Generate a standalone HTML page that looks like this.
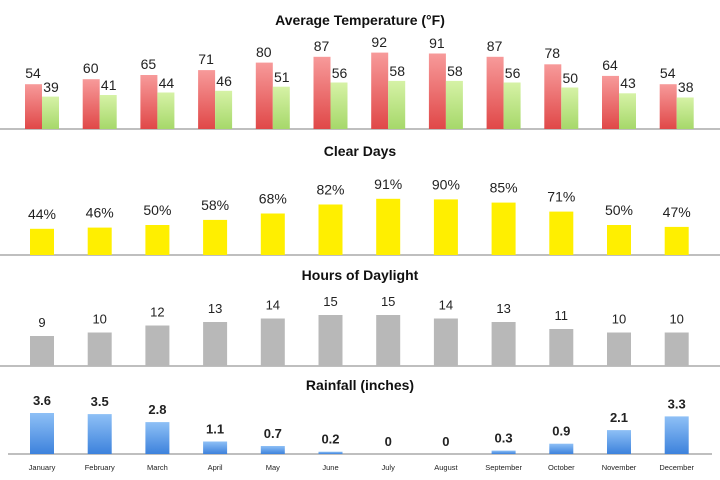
<!DOCTYPE html>
<html><head><meta charset="utf-8"><style>
html,body{margin:0;padding:0;background:#fff;}
svg{display:block;font-family:"Liberation Sans",sans-serif;}
</style></head><body>
<svg width="720" height="480" viewBox="0 0 720 480" xmlns="http://www.w3.org/2000/svg">
<defs>
<linearGradient id="r" x1="0" y1="0" x2="0" y2="1"><stop offset="0" stop-color="#f79a9a"/><stop offset="1" stop-color="#e04848"/></linearGradient>
<linearGradient id="g" x1="0" y1="0" x2="0" y2="1"><stop offset="0" stop-color="#d6f2a6"/><stop offset="1" stop-color="#a6d86a"/></linearGradient>
<linearGradient id="b" x1="0" y1="0" x2="0" y2="1"><stop offset="0" stop-color="#8ec0f6"/><stop offset="1" stop-color="#3d82dc"/></linearGradient>
</defs>
<rect width="720" height="480" fill="#fff"/>
<g font-weight="bold" font-size="14" text-anchor="middle" fill="#111">
<text x="360" y="25">Average Temperature (°F)</text>
<text x="360" y="156">Clear Days</text>
<text x="360" y="280">Hours of Daylight</text>
<text x="360" y="390">Rainfall (inches)</text>
</g>
<g stroke="#aaa" stroke-width="1.5">
<line x1="0" y1="129" x2="720" y2="129"/>
<line x1="0" y1="255" x2="720" y2="255"/>
<line x1="0" y1="366" x2="720" y2="366"/>
<line x1="8" y1="454" x2="712" y2="454"/>
</g>
<!-- temperature -->
<g fill="url(#r)">
<rect x="25" y="84.2" width="17" height="44.8"/>
<rect x="82.7" y="79.2" width="17" height="49.8"/>
<rect x="140.4" y="75" width="17" height="54"/>
<rect x="198.1" y="70.1" width="17" height="58.9"/>
<rect x="255.8" y="62.6" width="17" height="66.4"/>
<rect x="313.5" y="56.8" width="17" height="72.2"/>
<rect x="371.2" y="52.6" width="17" height="76.4"/>
<rect x="428.9" y="53.5" width="17" height="75.5"/>
<rect x="486.6" y="56.8" width="17" height="72.2"/>
<rect x="544.3" y="64.3" width="17" height="64.7"/>
<rect x="602" y="75.9" width="17" height="53.1"/>
<rect x="659.7" y="84.2" width="17" height="44.8"/>
</g>
<g fill="url(#g)">
<rect x="42" y="96.6" width="17" height="32.4"/>
<rect x="99.7" y="95" width="17" height="34"/>
<rect x="157.4" y="92.5" width="17" height="36.5"/>
<rect x="215.1" y="90.8" width="17" height="38.2"/>
<rect x="272.8" y="86.7" width="17" height="42.3"/>
<rect x="330.5" y="82.5" width="17" height="46.5"/>
<rect x="388.2" y="80.9" width="17" height="48.1"/>
<rect x="445.9" y="80.9" width="17" height="48.1"/>
<rect x="503.6" y="82.5" width="17" height="46.5"/>
<rect x="561.3" y="87.5" width="17" height="41.5"/>
<rect x="619" y="93.3" width="17" height="35.7"/>
<rect x="676.7" y="97.5" width="17" height="31.5"/>
</g>
<g font-size="14" text-anchor="middle" fill="#222">
<text x="33" y="78">54</text><text x="90.7" y="73">60</text><text x="148.4" y="69">65</text><text x="206.1" y="64">71</text>
<text x="263.8" y="57">80</text><text x="321.5" y="51">87</text><text x="379.2" y="47">92</text><text x="436.9" y="48">91</text>
<text x="494.6" y="51">87</text><text x="552.3" y="58">78</text><text x="610" y="70">64</text><text x="667.7" y="78">54</text>
<text x="51" y="92">39</text><text x="108.7" y="90">41</text><text x="166.4" y="88">44</text><text x="224.1" y="86">46</text>
<text x="281.8" y="82">51</text><text x="339.5" y="78">56</text><text x="397.2" y="76">58</text><text x="454.9" y="76">58</text>
<text x="512.6" y="78">56</text><text x="570.3" y="83">50</text><text x="628" y="88">43</text><text x="685.7" y="92">38</text>
</g>
<!-- clear days -->
<g fill="#ffef00">
<rect x="30" y="228.8" width="24" height="26.2"/>
<rect x="87.7" y="227.6" width="24" height="27.4"/>
<rect x="145.4" y="225" width="24" height="30"/>
<rect x="203.1" y="219.9" width="24" height="35.1"/>
<rect x="260.8" y="213.5" width="24" height="41.5"/>
<rect x="318.5" y="204.5" width="24" height="50.5"/>
<rect x="376.2" y="198.8" width="24" height="56.2"/>
<rect x="433.9" y="199.4" width="24" height="55.6"/>
<rect x="491.6" y="202.6" width="24" height="52.4"/>
<rect x="549.3" y="211.6" width="24" height="43.4"/>
<rect x="607" y="225" width="24" height="30"/>
<rect x="664.7" y="226.9" width="24" height="28.1"/>
</g>
<g font-size="14" text-anchor="middle" fill="#222">
<text x="42" y="218.8">44%</text><text x="99.7" y="217.6">46%</text><text x="157.4" y="215">50%</text><text x="215.1" y="209.9">58%</text>
<text x="272.8" y="203.5">68%</text><text x="330.5" y="194.5">82%</text><text x="388.2" y="188.8">91%</text><text x="445.9" y="189.4">90%</text>
<text x="503.6" y="192.6">85%</text><text x="561.3" y="201.6">71%</text><text x="619" y="215">50%</text><text x="676.7" y="216.9">47%</text>
</g>
<!-- daylight -->
<g fill="#b8b8b8">
<rect x="30" y="336" width="24" height="30"/>
<rect x="87.7" y="332.5" width="24" height="33.5"/>
<rect x="145.4" y="325.5" width="24" height="40.5"/>
<rect x="203.1" y="322" width="24" height="44"/>
<rect x="260.8" y="318.5" width="24" height="47.5"/>
<rect x="318.5" y="315" width="24" height="51"/>
<rect x="376.2" y="315" width="24" height="51"/>
<rect x="433.9" y="318.5" width="24" height="47.5"/>
<rect x="491.6" y="322" width="24" height="44"/>
<rect x="549.3" y="329" width="24" height="37"/>
<rect x="607" y="332.5" width="24" height="33.5"/>
<rect x="664.7" y="332.5" width="24" height="33.5"/>
</g>
<g font-size="13" text-anchor="middle" fill="#222">
<text x="42" y="327">9</text><text x="99.7" y="323.5">10</text><text x="157.4" y="316.5">12</text><text x="215.1" y="313">13</text>
<text x="272.8" y="309.5">14</text><text x="330.5" y="306">15</text><text x="388.2" y="306">15</text><text x="445.9" y="309.5">14</text>
<text x="503.6" y="313">13</text><text x="561.3" y="320">11</text><text x="619" y="323.5">10</text><text x="676.7" y="323.5">10</text>
</g>
<!-- rainfall -->
<g fill="url(#b)">
<rect x="30" y="413" width="24" height="41"/>
<rect x="87.7" y="414.1" width="24" height="39.9"/>
<rect x="145.4" y="422.1" width="24" height="31.9"/>
<rect x="203.1" y="441.5" width="24" height="12.5"/>
<rect x="260.8" y="446" width="24" height="8"/>
<rect x="318.5" y="451.7" width="24" height="2.3"/>
<rect x="491.6" y="450.6" width="24" height="3.4"/>
<rect x="549.3" y="443.7" width="24" height="10.3"/>
<rect x="607" y="430.1" width="24" height="23.9"/>
<rect x="664.7" y="416.4" width="24" height="37.6"/>
</g>
<g font-size="13" font-weight="bold" text-anchor="middle" fill="#222">
<text x="42" y="405">3.6</text><text x="99.7" y="406">3.5</text><text x="157.4" y="414">2.8</text><text x="215.1" y="433.5">1.1</text>
<text x="272.8" y="438">0.7</text><text x="330.5" y="443.7">0.2</text><text x="388.2" y="446">0</text><text x="445.9" y="446">0</text>
<text x="503.6" y="442.6">0.3</text><text x="561.3" y="435.7">0.9</text><text x="619" y="422">2.1</text><text x="676.7" y="408.4">3.3</text>
</g>
<g font-size="7.5" text-anchor="middle" fill="#222">
<text x="42" y="470">January</text><text x="99.7" y="470">February</text><text x="157.4" y="470">March</text><text x="215.1" y="470">April</text>
<text x="272.8" y="470">May</text><text x="330.5" y="470">June</text><text x="388.2" y="470">July</text><text x="445.9" y="470">August</text>
<text x="503.6" y="470">September</text><text x="561.3" y="470">October</text><text x="619" y="470">November</text><text x="676.7" y="470">December</text>
</g>
</svg>
</body></html>
